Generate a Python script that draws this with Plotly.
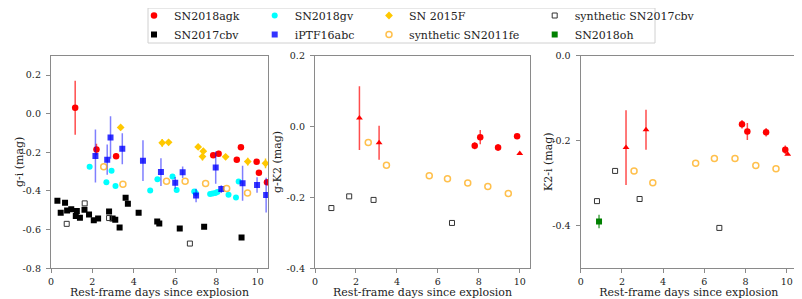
import plotly.graph_objects as go

# ---------------- Panel 1: g-i ----------------
agk_gi_x = [1.17, 2.2, 3.15, 7.85, 8.11, 8.99, 9.19, 9.95, 10.06, 10.45]
agk_gi_y = [0.031, -0.185, -0.22, -0.215, -0.207, -0.238, -0.174, -0.249, -0.306, -0.355]
agk_gi_e = [0.14, 0.03, 0.015, 0.01, 0.015, 0.01, 0.01, 0.01, 0.01, 0.01]

cbv_gi_x = [0.31, 0.47, 0.68, 0.78, 0.98, 1.2, 1.25, 1.4, 1.62, 1.84, 2.07, 2.28, 2.81, 2.98,
            3.11, 3.32, 3.61, 3.72, 4.24, 5.14, 5.24, 6.23, 7.41, 9.22]
cbv_gi_y = [-0.451, -0.513, -0.461, -0.501, -0.495, -0.53, -0.503, -0.539, -0.497, -0.521,
            -0.552, -0.542, -0.506, -0.542, -0.549, -0.589, -0.435, -0.466, -0.513, -0.558,
            -0.568, -0.594, -0.585, -0.64]

gv_gi_x = [1.87, 2.68, 2.93, 3.12, 4.8, 5.15, 5.88, 6.08, 6.93, 7.0, 7.7, 7.82, 7.95, 8.05,
           8.59, 8.95, 9.08]
gv_gi_y = [-0.275, -0.355, -0.295, -0.374, -0.397, -0.339, -0.325, -0.395, -0.402, -0.41,
           -0.415, -0.413, -0.41, -0.405, -0.42, -0.434, -0.351]

abc_gi_x = [2.15, 2.72, 2.88, 3.45, 4.45, 5.32, 6.01, 6.37, 7.02, 7.97, 8.24, 9.27, 9.97, 10.41]
abc_gi_y = [-0.219, -0.238, -0.123, -0.181, -0.243, -0.302, -0.358, -0.303, -0.423, -0.279,
            -0.39, -0.36, -0.369, -0.421]
abc_gi_e = [0.137, 0.078, 0.11, 0.08, 0.105, 0.072, 0.03, 0.03, 0.035, 0.083, 0.02, 0.09,
            0.04, 0.09]

f15_gi_x = [3.37, 5.38, 5.69, 7.12, 7.37, 7.33, 8.45, 9.52, 10.38]
f15_gi_y = [-0.071, -0.151, -0.148, -0.172, -0.194, -0.222, -0.223, -0.248, -0.257]
f15_gi_e = [0.01, 0.02, 0.01, 0.01, 0.015, 0.02, 0.01, 0.02, 0.025]

fe_gi_x = [2.55, 3.48, 5.59, 6.49, 7.48, 8.5, 9.51]
fe_gi_y = [-0.274, -0.365, -0.349, -0.349, -0.361, -0.387, -0.411]

scbv_gi_x = [0.76, 1.63, 2.81, 6.72]
scbv_gi_y = [-0.57, -0.464, -0.54, -0.672]

# ---------------- Panel 2: g-K2 ----------------
agk_gk_x = [7.8, 8.07, 8.94, 9.87]
agk_gk_y = [-0.054, -0.03, -0.059, -0.027]
agk_gk_e = [0.01, 0.02, 0.01, 0.006]
agk_gk_tri_x = [2.17, 3.13, 10.0]
agk_gk_tri_y = [0.024, -0.046, -0.076]
agk_gk_tri_e = [0.09, 0.048, 0.0]

fe_gk_x = [2.6, 3.49, 5.58, 6.47, 7.46, 8.44, 9.44]
fe_gk_y = [-0.045, -0.109, -0.139, -0.147, -0.159, -0.169, -0.189]

scbv_gk_x = [0.8, 1.67, 2.86, 6.69]
scbv_gk_y = [-0.23, -0.197, -0.207, -0.272]

# ---------------- Panel 3: K2-i ----------------
agk_ki_x = [7.83, 8.09, 9.0, 9.93]
agk_ki_y = [-0.161, -0.178, -0.18, -0.221]
agk_ki_e = [0.01, 0.02, 0.01, 0.01]
agk_ki_tri_x = [2.2, 3.17, 10.05]
agk_ki_tri_y = [-0.216, -0.174, -0.232]
agk_ki_tri_e = [0.088, 0.047, 0.0]

fe_ki_x = [2.59, 3.5, 5.58, 6.49, 7.49, 8.5, 9.48]
fe_ki_y = [-0.271, -0.299, -0.253, -0.242, -0.242, -0.258, -0.266]

scbv_ki_x = [0.79, 1.67, 2.86, 6.73]
scbv_ki_y = [-0.342, -0.271, -0.337, -0.405]

oh_ki_x = [0.89]
oh_ki_y = [-0.39]
oh_ki_e = [0.016]

# ---------------- text / ticks ----------------
x_title = "Rest-frame days since explosion"
y_titles = ["g-i (mag)", "g-K2 (mag)", "K2-i (mag)"]
x_tickvals = [0, 2, 4, 6, 8, 10]
x_ticktext = ["0", "2", "4", "6", "8", "10"]
y1_tickvals = [0.2, 0.0, -0.2, -0.4, -0.6, -0.8]
y1_ticktext = ["0.2", "0.0", "-0.2", "-0.4", "-0.6", "-0.8"]
y2_tickvals = [0.2, 0.0, -0.2, -0.4]
y2_ticktext = ["0.2", "0.0", "-0.2", "-0.4"]
y3_tickvals = [0.0, -0.2, -0.4]
y3_ticktext = ["0.0", "-0.2", "-0.4"]

# ---------------- styles ----------------
FONT = "DejaVu Serif"
RED = "#ff0000"
RED_E = "rgba(255,0,0,0.7)"
BLUE = "rgba(0,0,255,0.8)"
BLUE_E = "rgba(0,0,255,0.5)"
CYAN = "#00ffff"
GOLD = "#ffc800"
ORANGE = "rgba(255,165,0,0.7)"
BLACK = "#000000"
GREEN = "#008000"
TXT = "#222222"

fig = go.Figure()


def add(x, y, name, xa, ya, symbol, color, size=6, err=None, ecolor=None,
        showlegend=False, legend="legend", line_color=None, line_width=0):
    marker = dict(symbol=symbol, color=color, size=size)
    if line_color is not None:
        marker["line"] = dict(color=line_color, width=line_width)
    kw = {}
    if err is not None:
        kw["error_y"] = dict(type="data", array=err, visible=True, thickness=1.5,
                             width=0, color=ecolor or color)
    fig.add_trace(go.Scatter(x=x, y=y, mode="markers", name=name, marker=marker,
                             xaxis=xa, yaxis=ya, showlegend=showlegend,
                             legend=legend, **kw))


# legend column 1
add(agk_gi_x, agk_gi_y, "SN2018agk", "x", "y", "circle", RED, size=6.5, err=agk_gi_e,
    ecolor=RED_E, showlegend=True, legend="legend")
add(cbv_gi_x, cbv_gi_y, "SN2017cbv", "x", "y", "square", BLACK, size=6,
    showlegend=True, legend="legend")
# legend column 2
add(gv_gi_x, gv_gi_y, "SN2018gv", "x", "y", "circle", CYAN,
    showlegend=True, legend="legend2")
add(abc_gi_x, abc_gi_y, "iPTF16abc", "x", "y", "square", BLUE, err=abc_gi_e,
    ecolor=BLUE_E, showlegend=True, legend="legend2")
# legend column 3
add(f15_gi_x, f15_gi_y, "SN 2015F", "x", "y", "diamond", GOLD, err=f15_gi_e,
    ecolor=GOLD, showlegend=True, legend="legend3")
add(fe_gi_x, fe_gi_y, "synthetic SN2011fe", "x", "y", "circle-open", ORANGE,
    size=6, showlegend=True, legend="legend3", line_color=ORANGE, line_width=1.5)
# legend column 4
add(scbv_gi_x, scbv_gi_y, "synthetic SN2017cbv", "x", "y", "square-open", "#333333",
    size=5, showlegend=True, legend="legend4", line_color="#333333", line_width=1)
add(oh_ki_x, oh_ki_y, "SN2018oh", "x3", "y3", "square", GREEN, err=oh_ki_e,
    ecolor="rgba(0,128,0,0.7)", showlegend=True, legend="legend4")

# panel 2
add(fe_gk_x, fe_gk_y, "synthetic SN2011fe", "x2", "y2", "circle-open", ORANGE,
    size=6, line_color=ORANGE, line_width=1.5)
add(scbv_gk_x, scbv_gk_y, "synthetic SN2017cbv", "x2", "y2", "square-open", "#333333",
    size=5, line_color="#333333", line_width=1)
add(agk_gk_x, agk_gk_y, "SN2018agk", "x2", "y2", "circle", RED, size=6.5, err=agk_gk_e,
    ecolor=RED_E)
add(agk_gk_tri_x, agk_gk_tri_y, "SN2018agk", "x2", "y2", "triangle-up", RED,
    err=agk_gk_tri_e, ecolor=RED_E)

# panel 3
add(fe_ki_x, fe_ki_y, "synthetic SN2011fe", "x3", "y3", "circle-open", ORANGE,
    size=6, line_color=ORANGE, line_width=1.5)
add(scbv_ki_x, scbv_ki_y, "synthetic SN2017cbv", "x3", "y3", "square-open", "#333333",
    size=5, line_color="#333333", line_width=1)
add(agk_ki_x, agk_ki_y, "SN2018agk", "x3", "y3", "circle", RED, size=6.5, err=agk_ki_e,
    ecolor=RED_E)
add(agk_ki_tri_x, agk_ki_tri_y, "SN2018agk", "x3", "y3", "triangle-up", RED,
    err=agk_ki_tri_e, ecolor=RED_E)

# The page body has an 8px margin, so work in (reference px - 8)
OFF = 8
W, H = 802 - OFF, 299 - OFF


def px(v):
    return (v - OFF) / W


def py(v):
    return 1 - (v - OFF) / H


ydom = [py(268.3), py(55.7)]
axis_common = dict(showline=True, mirror=True, linecolor="#8a8a8a", linewidth=1.3,
                   ticks="outside", ticklen=4, tickcolor="#8a8a8a", tickwidth=1,
                   showgrid=False, zeroline=False,
                   tickfont=dict(family=FONT, size=9.5, color=TXT))
xt = dict(text=x_title, font=dict(family=FONT, size=11, color=TXT), standoff=2)
xcommon = dict(range=[0, 10.5], tickmode="array", tickvals=x_tickvals, ticktext=x_ticktext,
               title=xt, **axis_common)

fig.update_layout(
    width=W, height=H, margin=dict(l=0, r=0, t=0, b=0, autoexpand=False),
    paper_bgcolor="white", plot_bgcolor="white",
    font=dict(family=FONT, size=11, color=TXT),
    xaxis=dict(domain=[px(51), px(268)], anchor="y", **xcommon),
    xaxis2=dict(domain=[px(315), px(530)], anchor="y2", **xcommon),
    xaxis3=dict(domain=[px(580.7), px(797)], anchor="y3", **xcommon),
    yaxis=dict(domain=ydom, range=[-0.8, 0.3], tickmode="array", tickvals=y1_tickvals,
               ticktext=y1_ticktext, anchor="x", ticklabelstandoff=3, **axis_common),
    yaxis2=dict(domain=ydom, range=[-0.4, 0.2], tickmode="array", tickvals=y2_tickvals,
                ticktext=y2_ticktext, anchor="x2", ticklabelstandoff=3, **axis_common),
    yaxis3=dict(domain=ydom, range=[-0.5, 0.0], tickmode="array", tickvals=y3_tickvals,
                ticktext=y3_ticktext, anchor="x3", ticklabelstandoff=3, **axis_common),
)

ymid = (ydom[0] + ydom[1]) / 2
for title, xc in zip(y_titles, [19, 277, 548]):
    fig.add_annotation(text=title, x=px(xc), y=ymid, xref="paper", yref="paper",
                       textangle=-90, showarrow=False, xanchor="center", yanchor="middle",
                       font=dict(family=FONT, size=11, color=TXT))

leg_common = dict(orientation="v", yanchor="top", y=1 + 7 / H, xanchor="left",
                  bgcolor="rgba(0,0,0,0)", borderwidth=0, itemwidth=30,
                  font=dict(family=FONT, size=11, color=TXT), tracegroupgap=0)
fig.update_layout(
    legend=dict(x=px(176 - 42), **leg_common),
    legend2=dict(x=px(296.7 - 42), **leg_common),
    legend3=dict(x=px(411 - 42), **leg_common),
    legend4=dict(x=px(576.7 - 42), **leg_common),
)

fig.add_shape(type="rect", xref="paper", yref="paper",
              x0=px(148), x1=px(655), y0=py(43), y1=py(8),
              line=dict(color="#d0d0d0", width=1), fillcolor="rgba(0,0,0,0)")

fig.write_html("out.html")
